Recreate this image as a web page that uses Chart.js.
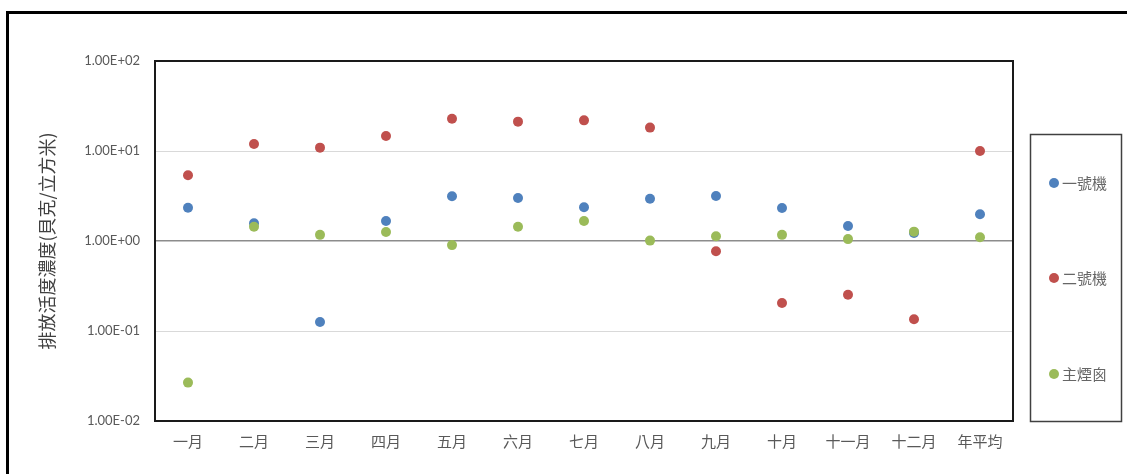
<!DOCTYPE html>
<html>
<head>
<meta charset="utf-8">
<script src="https://cdn.jsdelivr.net/npm/chart.js@4/dist/chart.umd.min.js"></script>
<style>
  body { margin: 0; background: #fff; }
  #wrap { width: 1127px; height: 474px; }
</style>
</head>
<body>
<div id="wrap"><canvas id="chart" width="1127" height="474"></canvas></div>
<script>
// data
const months = ['一月', '二月', '三月', '四月', '五月', '六月', '七月', '八月', '九月', '十月', '十一月', '十二月', '年平均'];
const unit1 = [2.34, 1.57, 0.126, 1.67, 3.14, 3.0, 2.37, 2.95, 3.16, 2.33, 1.47, 1.23, 1.98];
const unit2 = [5.37, 11.96, 10.9, 14.7, 22.8, 21.2, 21.9, 18.2, 0.768, 0.205, 0.253, 0.135, 10.0];
const stack = [0.0267, 1.44, 1.17, 1.26, 0.90, 1.44, 1.67, 1.01, 1.13, 1.17, 1.05, 1.27, 1.10];
const seriesNames = ['一號機', '二號機', '主煙囪'];
const yTickValues = [0.01, 0.1, 1, 10, 100];
const yTickLabels = ['1.00E-02', '1.00E-01', '1.00E+00', '1.00E+01', '1.00E+02'];

const colors = ['#4F81BD', '#C0504D', '#9BBB59'];
const cjk = "'Noto Sans CJK TC', sans-serif";
const latin = "Lato, 'Noto Sans CJK TC', sans-serif";

// frame, plot border and the boxed legend on the right
const framePlugin = {
    id: 'frame',
    beforeDatasetsDraw(chart) {
        const a = chart.chartArea;
        const ctx = chart.ctx;
        ctx.save();
        ctx.strokeStyle = '#1a1a1a';
        ctx.lineWidth = 2;
        ctx.strokeRect(a.left, a.top, a.right - a.left, a.bottom - a.top);
        ctx.restore();
    },
    afterDraw(chart) {
        const ctx = chart.ctx;
        ctx.save();
        // outer chart border, running off the right and bottom
        ctx.strokeStyle = '#000';
        ctx.lineWidth = 3;
        ctx.beginPath();
        ctx.moveTo(7.5, 480);
        ctx.lineTo(7.5, 12.5);
        ctx.lineTo(1130, 12.5);
        ctx.stroke();

        // legend box
        ctx.strokeStyle = '#404040';
        ctx.lineWidth = 1.5;
        ctx.strokeRect(1030.5, 134.5, 91, 287);
        const ys = [183, 278, 374];
        chart.data.datasets.forEach((ds, i) => {
            ctx.fillStyle = ds.backgroundColor;
            ctx.beginPath();
            ctx.arc(1054, ys[i], 5, 0, Math.PI * 2);
            ctx.fill();
            ctx.fillStyle = '#666666';
            ctx.font = '15px ' + cjk;
            ctx.textAlign = 'left';
            ctx.textBaseline = 'middle';
            ctx.fillText(ds.label, 1062, ys[i]);
        });
        ctx.restore();
    }
};

const series = [unit1, unit2, stack];
const datasets = series.map((vals, i) => ({
    label: seriesNames[i],
    data: vals,
    showLine: false,
    backgroundColor: colors[i],
    borderColor: colors[i],
    borderWidth: 0,
    pointRadius: 5,
    pointHoverRadius: 5,
    order: 2 - i
}));

new Chart(document.getElementById('chart'), {
    type: 'line',
    data: { labels: months, datasets: datasets },
    options: {
        responsive: false,
        animation: false,
        layout: { padding: { top: 61, right: 114, bottom: 0, left: 0 } },
        plugins: {
            legend: { display: false },
            tooltip: { enabled: false }
        },
        scales: {
            x: {
                type: 'category',
                offset: true,
                grid: { display: false, drawTicks: false },
                border: { display: false },
                ticks: {
                    color: '#595959',
                    font: { family: cjk, size: 15 },
                    padding: 11,
                    maxRotation: 0,
                    autoSkip: false
                },
                afterFit(scale) { scale.height = 53; }
            },
            y: {
                type: 'logarithmic',
                min: 0.01,
                max: 100,
                afterBuildTicks(scale) {
                    scale.ticks = yTickValues.map(v => ({ value: v }));
                },
                afterFit(scale) { scale.width = 155; },
                grid: {
                    drawTicks: false,
                    color: ctx => (ctx.tick && ctx.tick.value === 1) ? '#8c8c8c' : '#d9d9d9',
                    lineWidth: ctx => (ctx.tick && ctx.tick.value === 1) ? 1.5 : 1
                },
                border: { display: false },
                ticks: {
                    color: '#595959',
                    font: { family: latin, size: 13 },
                    padding: 15,
                    callback: (v) => {
                        const i = yTickValues.indexOf(v);
                        return i >= 0 ? yTickLabels[i] : '';
                    }
                },
                title: {
                    display: true,
                    text: '排放活度濃度(貝克/立方米)',
                    color: '#404040',
                    font: { family: cjk, size: 18 },
                    padding: { top: 36, bottom: 0 }
                }
            }
        }
    },
    plugins: [framePlugin]
});
</script>
</body>
</html>
